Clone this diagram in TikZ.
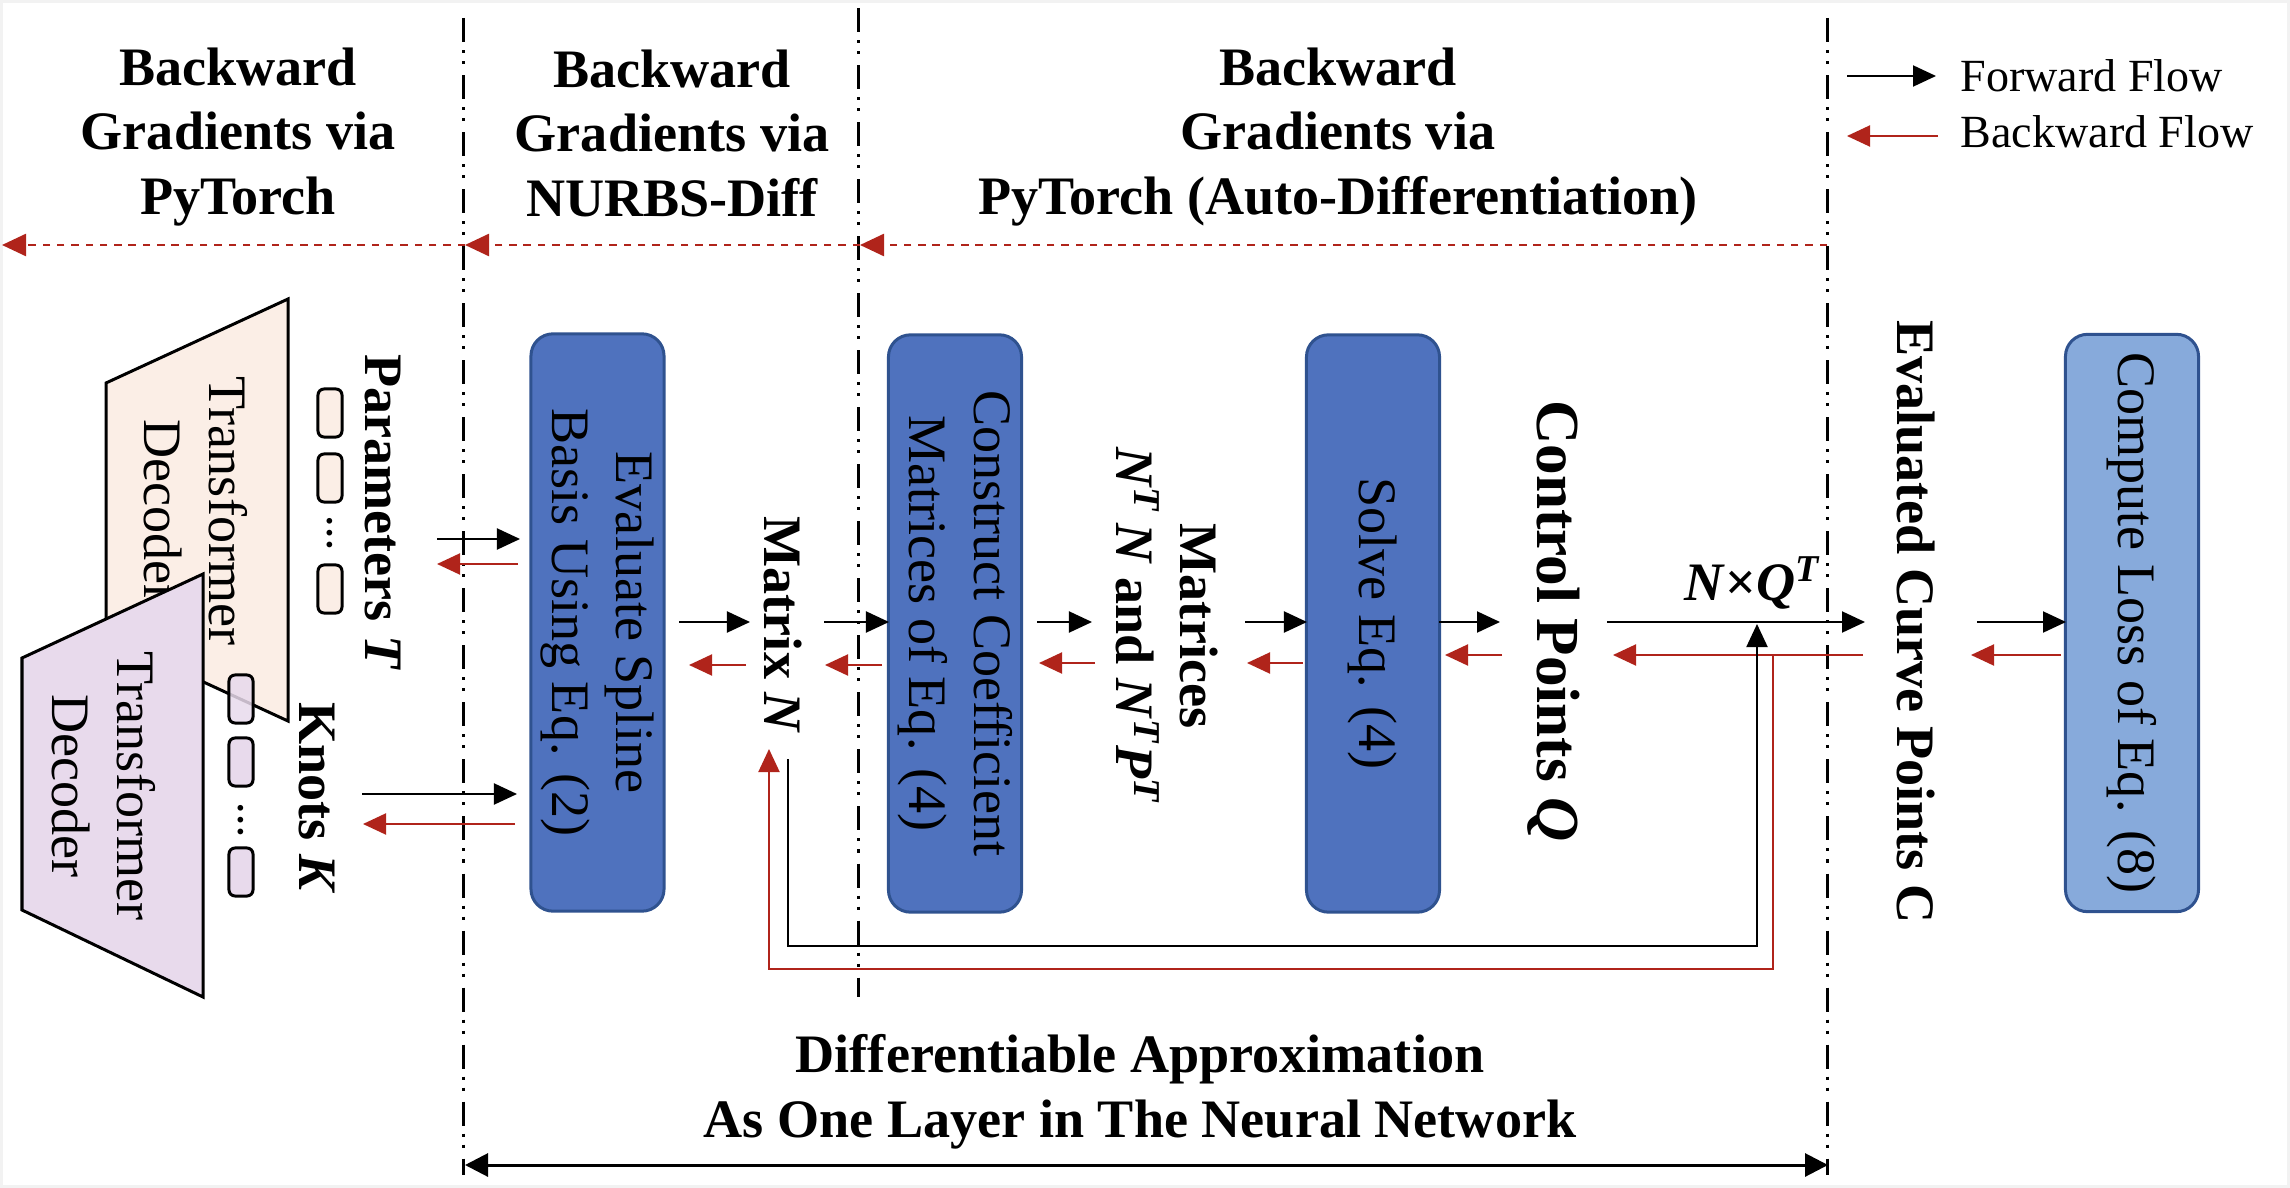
\documentclass[tikz,border=0pt]{standalone}
\usepackage{fontspec}
\setmainfont{Liberation Serif}
\usetikzlibrary{arrows.meta,calc}
\definecolor{bred}{RGB}{176,36,27}
\definecolor{boxblue}{RGB}{79,114,190}
\definecolor{boxedge}{RGB}{47,82,143}
\definecolor{lightblue}{RGB}{135,170,219}
\definecolor{peach}{RGB}{251,238,230}
\definecolor{lavender}{RGB}{232,218,236}
\newcommand{\fsmain}{\fontsize{15.4}{18.4}\selectfont}
\newcommand{\fsbig}{\fontsize{17.4}{20}\selectfont}
\newcommand{\fsleg}{\fontsize{13.1}{15}\selectfont}
\newcommand{\mbi}[1]{\textbf{\textit{#1}}}
\begin{document}
\begin{tikzpicture}[x=0.01cm,y=-0.01cm,
  fwd/.style={-{Triangle[length=0.23cm,width=0.21cm]},line width=0.02cm,black},
  bwd/.style={-{Triangle[length=0.23cm,width=0.21cm]},line width=0.02cm,bred},
  sepline/.style={line width=0.03cm,dash pattern=on 0.24cm off 0.08cm on 0.03cm off 0.08cm on 0.03cm off 0.11cm},
  gradline/.style={bred,line width=0.025cm,dash pattern=on 0.075cm off 0.068cm,-{Triangle[length=0.24cm,width=0.22cm]}},
  stepbox/.style={draw=boxedge,fill=boxblue,line width=0.03cm,rounded corners=0.22cm,rotate=-90,minimum width=5.77cm,minimum height=1.33cm,inner sep=0pt,align=center,font=\fsmain},
  rlabel/.style={rotate=-90,align=center,inner sep=0pt,font=\fsmain\bfseries},
  hdr/.style={anchor=north,align=center,inner sep=0pt,font=\fsmain\bfseries},
  ptok/.style={draw,line width=0.03cm,fill=peach,rounded corners=0.06cm,minimum width=0.24cm,minimum height=0.48cm,inner sep=0pt},
  ktok/.style={ptok,fill=lavender},
  tokdots/.style={rotate=-90,inner sep=0pt,font=\fontsize{10}{10}\selectfont\bfseries},
  trap/.style={line width=0.03cm,draw=black},
  dectext/.style={rotate=-90,align=center,inner sep=0pt,font=\fsmain}
]
\useasboundingbox (0,0) rectangle (2290,1188);
\draw[black!5,line width=0.03cm] (1.5,1.5) rectangle (2288.5,1186.5);

% separators
\draw[sepline] (463,18) -- (463,1175);
\draw[sepline] (858,8) -- (858,997);
\draw[sepline] (1827,18) -- (1827,1175);

% headers
\node[hdr] (h1) at (238,47) {Backward\\Gradients via\\PyTorch};
\node[hdr] (h2) at (672,49) {Backward\\Gradients via\\NURBS-Diff};
\node[hdr] (h3) at (1338,47) {Backward\\Gradients via\\PyTorch (Auto-Differentiation)};

% gradient dashed lines
\coordinate (g3) at (1827,245);
\coordinate (g2) at (860,245);
\coordinate (g1) at (465,245);
\coordinate (g0) at (2,245);
\draw[gradline] (g3) -- (g2);
\draw[gradline] (g2) -- (g1);
\draw[gradline] (g1) -- (g0);

% legend
\coordinate (lfa) at (1847,76);
\coordinate (lfb) at (1936,76);
\coordinate (lba) at (1938,136);
\coordinate (lbb) at (1847,136);
\draw[fwd] (lfa) -- (lfb);
\draw[bwd] (lba) -- (lbb);
\node[anchor=base west,inner sep=0pt,font=\fsleg] (lfwd) at (1960,92) {Forward Flow};
\node[anchor=base west,inner sep=0pt,font=\fsleg] (lbwd) at (1960,148) {Backward Flow};

% transformer decoders
\draw[trap,fill=peach] (106,383) -- (288,299) -- (288,721) -- (106,637) -- cycle;
\node[dectext] (dec1) at (196,511) {Transformer\\Decoder};
\draw[trap,fill=lavender] (22,658) -- (203,574) -- (203,997) -- (22,910) -- cycle;
\node[dectext] (dec2) at (104,786) {Transformer\\Decoder};

% tokens
\node[ptok] (p1) at (330,413) {};
\node[ptok] (p2) at (330,478) {};
\node[tokdots] (pd) at (330,533) {…};
\node[ptok] (p3) at (330,589) {};
\node[ktok,fill opacity=0.85] (k1) at (241,699) {};
\node[ktok] (k2) at (241,762) {};
\node[tokdots] (kd) at (241,820) {…};
\node[ktok] (k3) at (241,872) {};

% labels
\node[rlabel] (parT) at (383,512) {Parameters \mbi{T}};
\node[rlabel] (knK) at (317,798) {Knots \mbi{K}};
\node[rlabel] (matN) at (783,625) {Matrix \mbi{N}};
\node[rlabel] (mats) at (1167,626) {Matrices\\\mbi{N}\textsuperscript{\mbi{T}}\,\mbi{N} and \mbi{N}\textsuperscript{\mbi{T}}\mbi{P}\textsuperscript{\mbi{T}}};
\node[rlabel,font=\fsbig\bfseries] (ctrlQ) at (1554,621) {Control Points \mbi{Q}};
\node[rlabel] (curveC) at (1916,622) {Evaluated Curve Points C};
\node[anchor=base west,inner sep=0pt,font=\fsmain] (nq) at (1684,600) {\mbi{N}\textbf{×}\mbi{Q}\textsuperscript{\mbi{T}}};

% boxes
\node[stepbox] (evalbox) at (597.5,622.5) {Evaluate Spline\\Basis Using Eq. (2)};
\node[stepbox] (conbox) at (955,623.5) {Construct Coefficient\\Matrices of Eq. (4)};
\node[stepbox] (solvebox) at (1373,623.5) {Solve Eq. (4)};
\node[stepbox,fill=lightblue] (lossbox) at (2132,623) {Compute Loss of Eq. (8)};

% forward / backward arrows
\draw[fwd] ([shift={(54,27)}]parT.center) -- ([shift={(-77.5,-83.5)}]evalbox.center);
\draw[bwd] ([shift={(-79.5,-58.5)}]evalbox.center) -- ([shift={(54,52)}]parT.center);
\draw[fwd] ([shift={(45,-4)}]knK.center) -- ([shift={(-80.5,171.5)}]evalbox.center);
\draw[bwd] ([shift={(-82.5,201.5)}]evalbox.center) -- ([shift={(46,26)}]knK.center);
\draw[fwd] ([shift={(81.5,-0.5)}]evalbox.center) -- ([shift={(-33,-3)}]matN.center);
\draw[bwd] ([shift={(-37,40)}]matN.center) -- ([shift={(91.5,42.5)}]evalbox.center);
\draw[fwd] ([shift={(41,-3)}]matN.center) -- ([shift={(-66,-1.5)}]conbox.center);
\draw[bwd] ([shift={(-73,41.5)}]conbox.center) -- ([shift={(42,40)}]matN.center);
\draw[fwd] ([shift={(82,-1.5)}]conbox.center) -- ([shift={(-75,-4)}]mats.center);
\draw[bwd] ([shift={(-72,37)}]mats.center) -- ([shift={(84,39.5)}]conbox.center);
\draw[fwd] ([shift={(78,-4)}]mats.center) -- ([shift={(-66,-1.5)}]solvebox.center);
\draw[bwd] ([shift={(-70,39.5)}]solvebox.center) -- ([shift={(80,37)}]mats.center);
\draw[fwd] ([shift={(66,-1.5)}]solvebox.center) -- ([shift={(-54,1)}]ctrlQ.center);
\draw[bwd] ([shift={(-52,34)}]ctrlQ.center) -- ([shift={(72,31.5)}]solvebox.center);
\draw[fwd] ([shift={(53,1)}]ctrlQ.center) -- ([shift={(-51,0)}]curveC.center);
\draw[bwd] ([shift={(-53,33)}]curveC.center) -- ([shift={(59,34)}]ctrlQ.center);
\draw[fwd] ([shift={(61,0)}]curveC.center) -- ([shift={(-66,-1)}]lossbox.center);
\draw[bwd] ([shift={(-71,32)}]lossbox.center) -- ([shift={(55,33)}]curveC.center);

% feedback loops
\coordinate (jf) at (1757,624);
\coordinate (jb) at (1773,655);
\draw[fwd] ([shift={(5,134)}]matN.center) -- ++(0,187) -| (jf);
\draw[bwd] (jb) -- ++(0,314) -| ([shift={(-14,124)}]matN.center);

% bottom span
\coordinate (bl) at (465,1165);
\coordinate (br) at (1828,1165);
\draw[line width=0.03cm,{Triangle[length=0.23cm,width=0.23cm]}-{Triangle[length=0.23cm,width=0.23cm]}] (bl) -- (br);
\node[anchor=north,align=center,inner sep=0pt,font=\fsmain\bfseries] (layer) at (1140,1034) {Differentiable Approximation\\As One Layer in The Neural Network};
\end{tikzpicture}
\end{document}
